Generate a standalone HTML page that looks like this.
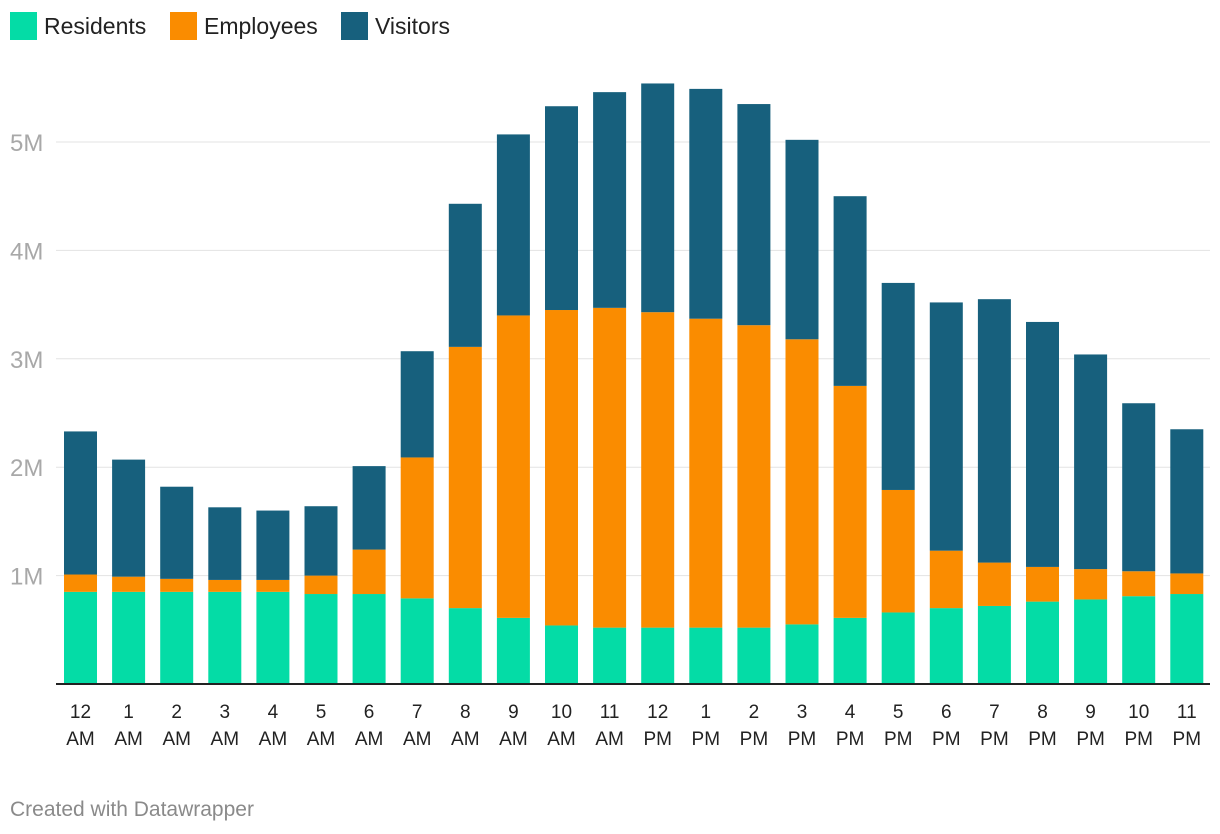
<!DOCTYPE html>
<html><head><meta charset="utf-8"><style>
body{margin:0;background:#fff;font-family:"Liberation Sans",sans-serif;}
svg{display:block}
</style></head><body>
<svg id="chart" width="1220" height="834">
<g>
<rect x="10" y="12" width="27" height="28" fill="#04dca6"/>
<text x="44" y="34" font-size="23" fill="#222">Residents</text>
<rect x="170" y="12" width="27" height="28" fill="#fa8c00"/>
<text x="204" y="34" font-size="23" fill="#222">Employees</text>
<rect x="341" y="12" width="27" height="28" fill="#17607d"/>
<text x="375" y="34" font-size="23" fill="#222">Visitors</text>
</g>
<g id="grid"></g><g id="bars"></g><g id="xlab"></g>
<text x="10" y="816" font-size="21" fill="#8a8a8a">Created with Datawrapper</text>
</svg>
<script>
const hours=["12","1","2","3","4","5","6","7","8","9","10","11","12","1","2","3","4","5","6","7","8","9","10","11"];
const periods=["AM","AM","AM","AM","AM","AM","AM","AM","AM","AM","AM","AM","PM","PM","PM","PM","PM","PM","PM","PM","PM","PM","PM","PM"];
const residents=[0.85,0.85,0.85,0.85,0.85,0.83,0.83,0.79,0.70,0.61,0.54,0.52,0.52,0.52,0.52,0.55,0.61,0.66,0.70,0.72,0.76,0.78,0.81,0.83];
const employees=[0.16,0.14,0.12,0.11,0.11,0.17,0.41,1.30,2.41,2.79,2.91,2.95,2.91,2.85,2.79,2.63,2.14,1.13,0.53,0.40,0.32,0.28,0.23,0.19];
const visitors=[1.32,1.08,0.85,0.67,0.64,0.64,0.77,0.98,1.32,1.67,1.88,1.99,2.11,2.12,2.04,1.84,1.75,1.91,2.29,2.43,2.26,1.98,1.55,1.33];
const yTicks=[1,2,3,4,5];
const yTickLabels=["1M","2M","3M","4M","5M"];
const NS="http://www.w3.org/2000/svg";
const y=v=>684-v*108.4;
const x=i=>64+i*48.1;
const bw=33;
function mk(tag,attrs,parent){const e=document.createElementNS(NS,tag);for(const k in attrs)e.setAttribute(k,attrs[k]);parent.appendChild(e);return e;}
const grid=document.getElementById('grid');
yTicks.forEach((t,i)=>{
 const l=mk('line',{x1:56,x2:1210,y1:y(t),y2:y(t),stroke:'#e3e3e3','stroke-width':1},grid);
 
 
 const tx=mk('text',{x:10,y:y(t)+9,'font-size':24,fill:'#a8a8a8'},grid);
 tx.textContent=yTickLabels[i];
 
 
});
const bars=document.getElementById('bars');
const series=[[residents,'#04dca6','residents'],[employees,'#fa8c00','employees'],[visitors,'#17607d','visitors']];
hours.forEach((h,i)=>{
 let base=0;
 series.forEach(([arr,c,n])=>{
  const v=arr[i];
  const r=mk('rect',{x:x(i),y:y(base+v),width:bw,height:y(base)-y(base+v),fill:c},bars);
  
  
  base+=v;
 });
 const xl=document.getElementById('xlab');
 const t1=mk('text',{x:x(i)+bw/2,y:718,'font-size':19,fill:'#222','text-anchor':'middle'},xl);
 t1.textContent=h;
 
 
 const t2=mk('text',{x:x(i)+bw/2,y:745,'font-size':19,fill:'#222','text-anchor':'middle'},xl);
 t2.textContent=periods[i];
 
 
});
const bl=mk('line',{x1:56,x2:1210,y1:684,y2:684,stroke:'#222','stroke-width':2},bars);


</script>
</body></html>
